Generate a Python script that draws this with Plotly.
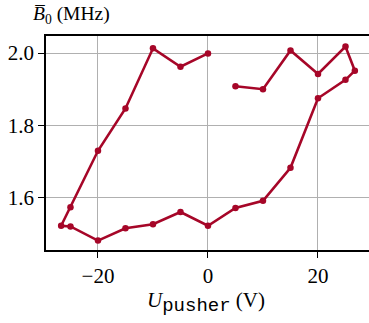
import plotly.graph_objects as go

# Path order of the measurement sweep
u_pusher = [0, -5, -10, -15, -20, -25, -26.7, -25, -20, -15, -10, -5, 0,
            5, 10, 15, 20, 25, 26.7, 25, 20, 15, 10, 5]
b0_mhz = [1.999, 1.962, 2.013, 1.847, 1.730, 1.574, 1.523, 1.521, 1.482,
          1.516, 1.527, 1.561, 1.523, 1.572, 1.592, 1.683, 1.875, 1.926,
          1.951, 2.018, 1.942, 2.007, 1.900, 1.908]

x_ticks = [-20, 0, 20]
x_ticklabels = ["\u221220", "0", "20"]
y_ticks = [1.6, 1.8, 2.0]
y_ticklabels = ["1.6", "1.8", "2.0"]

color = "#A60628"
serif = "Liberation Serif"

W = 372
L = 46
PW = W - L

fig = go.Figure()
fig.add_trace(go.Scatter(
    x=u_pusher, y=b0_mhz, mode="lines+markers",
    line=dict(color=color, width=2.6),
    marker=dict(color=color, size=6.5),
    showlegend=False, cliponaxis=False,
))

fig.update_layout(
    width=W, height=323,
    margin=dict(l=L, r=0, t=36, b=73),
    plot_bgcolor="white", paper_bgcolor="white",
    font=dict(family=serif, size=21, color="black"),
    xaxis=dict(
        range=[-29.45, 29.82],
        tickvals=x_ticks, ticktext=x_ticklabels,
        showgrid=True, gridcolor="#b0b0b0", gridwidth=1.2,
        showline=True, linecolor="black", linewidth=1.5, mirror=True,
        ticks="outside", ticklen=6, tickwidth=1.2, tickcolor="black",
        zeroline=False, automargin=False,
    ),
    yaxis=dict(
        range=[1.456, 2.047],
        tickvals=y_ticks, ticktext=y_ticklabels,
        showgrid=True, gridcolor="#b0b0b0", gridwidth=1.2,
        showline=True, linecolor="black", linewidth=1.5, mirror=False,
        ticks="outside", ticklen=6, tickwidth=1.2, tickcolor="black",
        zeroline=False, automargin=False,
    ),
    annotations=[
        dict(
            text="<i>B\u0305</i><sub>0</sub> (MHz)",
            xref="paper", yref="paper", x=(33 - L) / PW, y=1.0, yshift=21,
            xanchor="left", xshift=-2, yanchor="middle", showarrow=False,
            font=dict(family=serif, size=19.5),
        ),
        dict(
            text="<i>U</i><sub><span style='font-family:Liberation Mono;font-size:19px'>pusher</span></sub> (V)",
            xref="paper", yref="paper", x=(206 - L) / PW, y=0, yshift=-52,
            xanchor="center", yanchor="middle", showarrow=False,
            font=dict(family=serif, size=21),
        ),
    ],
)

fig.write_html("out.html",
               config={"displayModeBar": False},
               post_script="document.body.style.margin='0';document.body.style.overflow='hidden';")
